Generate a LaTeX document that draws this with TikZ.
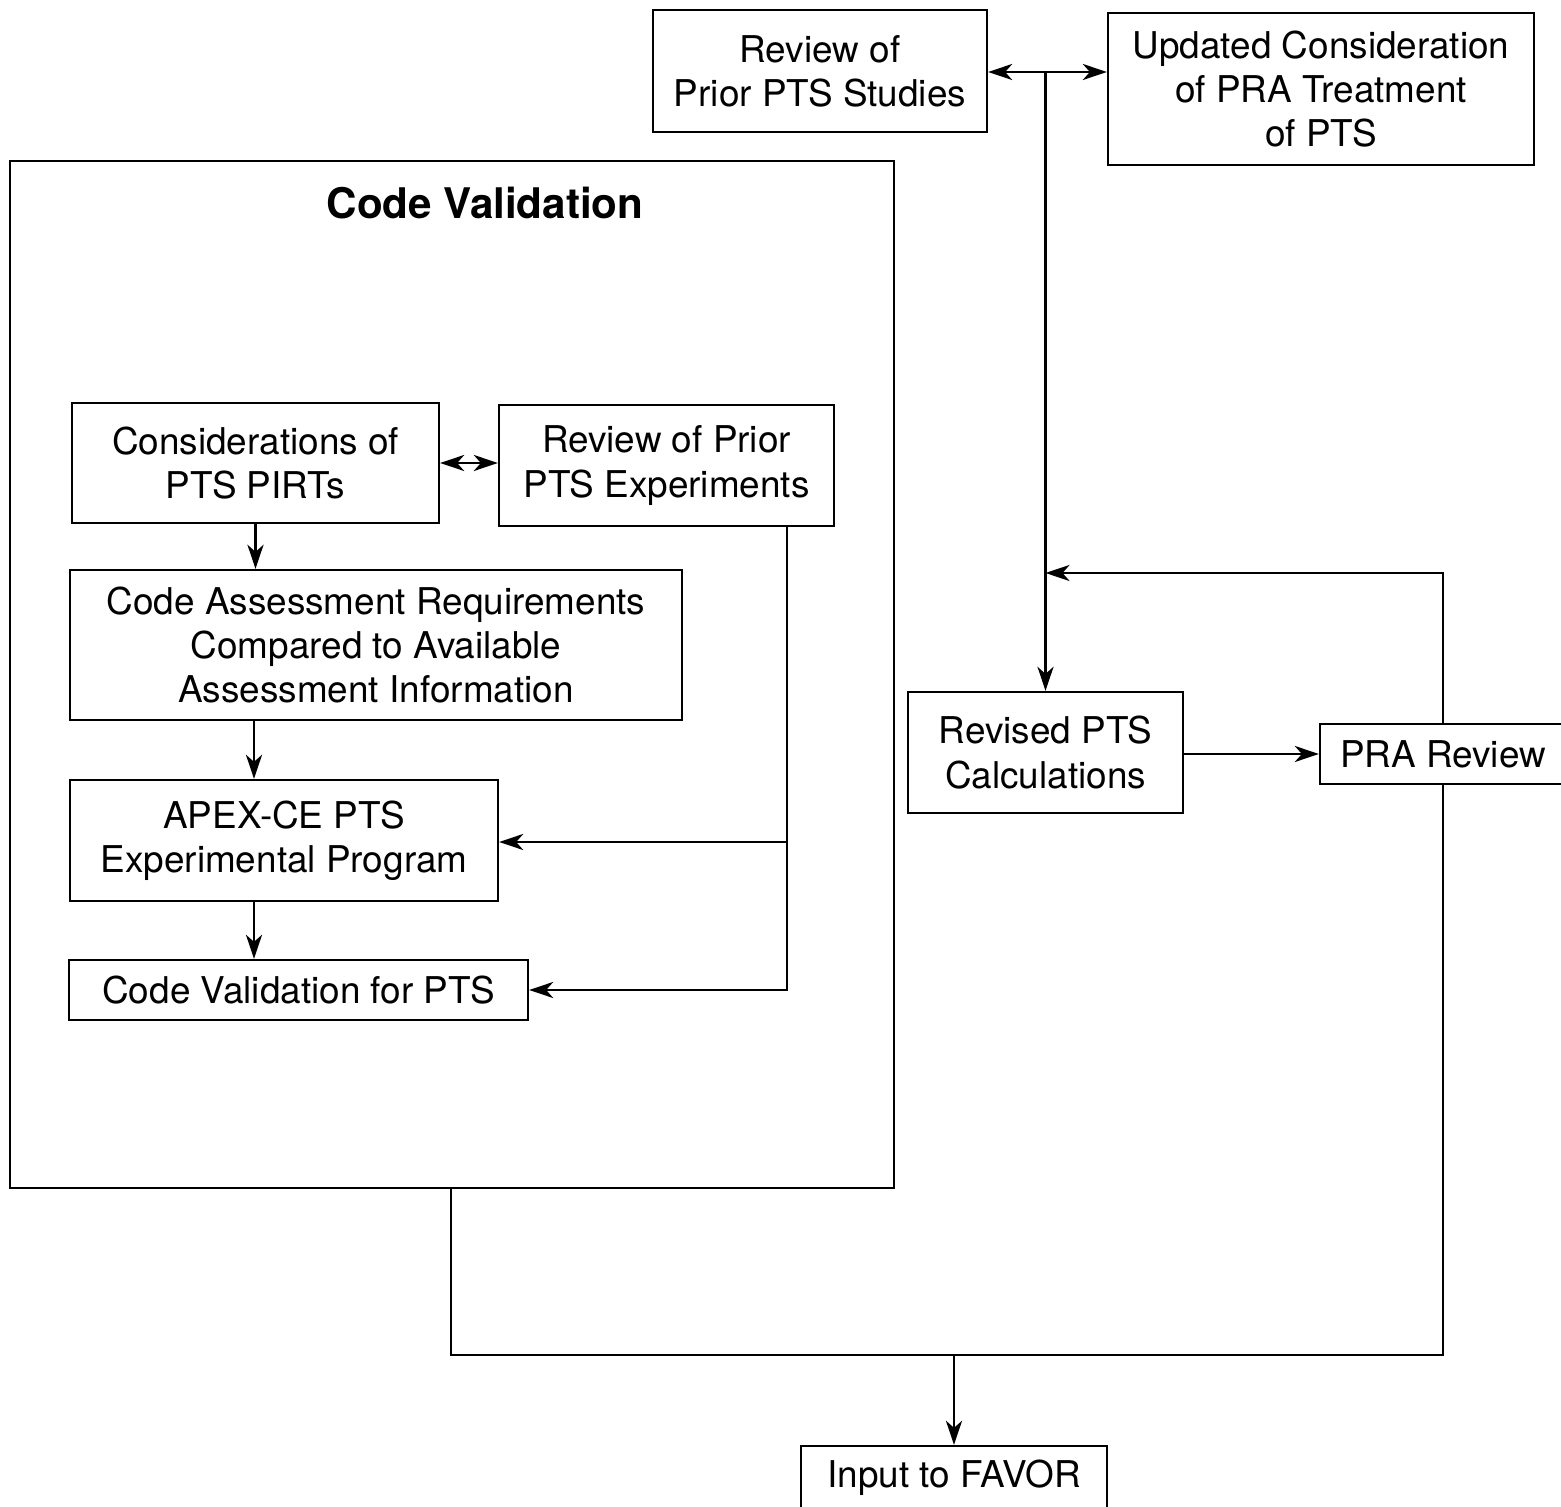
\documentclass[tikz,border=0pt]{standalone}
\usepackage{fontspec}
\setmainfont{TeX Gyre Heros}
\usetikzlibrary{arrows.meta,positioning}

\begin{document}
\begin{tikzpicture}[
  box/.style={rectangle,draw,line width=0.65pt,align=center,inner sep=0pt,
              font=\fontsize{10.5}{12.6}\selectfont},
  frame/.style={rectangle,draw,line width=0.65pt,inner sep=0pt},
  arr/.style={-{Stealth[length=2.4mm,width=1.6mm,inset=0.7mm]},line width=0.8pt},
  dbl/.style={{Stealth[length=2.4mm,width=1.6mm,inset=0.7mm]}-{Stealth[length=2.4mm,width=1.6mm,inset=0.7mm]},line width=0.8pt},
  ln/.style={line width=0.8pt}
]
\useasboundingbox (0,0) rectangle (15.61,15.06);

\node[box,minimum width=3.34cm,minimum height=1.22cm] (studies) at (8.20,14.35)
  {Review of\\Prior PTS Studies};
\node[box,minimum width=4.26cm,minimum height=1.52cm] (updated) at (13.21,14.17)
  {Updated Consideration\\of PRA Treatment\\of PTS};

\node[frame,minimum width=8.84cm,minimum height=10.27cm] (cvbox) at (4.52,8.315) {};
\node[font=\fontsize{12}{14}\bfseries] (title) at (4.85,13.03) {Code Validation};

\node[box,minimum width=3.67cm,minimum height=1.20cm] (pirts) at (2.555,10.43)
  {Considerations of\\PTS PIRTs};
\node[box,minimum width=3.35cm,minimum height=1.21cm] (priorexp) at (6.665,10.405)
  {Review of Prior\\PTS Experiments};
\node[box,minimum width=6.12cm,minimum height=1.50cm] (assess) at (3.76,8.61)
  {Code Assessment Requirements\\Compared to Available\\Assessment Information};
\node[box,minimum width=4.28cm,minimum height=1.21cm] (apex) at (2.84,6.655)
  {APEX-CE PTS\\Experimental Program};
\node[box,minimum width=4.59cm,minimum height=0.60cm] (cvpts) at (2.985,5.16)
  {Code Validation for PTS};

\node[box,minimum width=2.75cm,minimum height=1.21cm] (revised) at (10.455,7.535)
  {Revised PTS\\Calculations};
\node[box,minimum width=2.46cm,minimum height=0.60cm] (prarev) at (14.43,7.52)
  {PRA Review};
\node[box,minimum width=3.06cm,minimum height=0.64cm] (favor) at (9.54,0.28)
  {Input to FAVOR};

\coordinate (split) at (10.455,14.34);
\coordinate (back) at (10.455,9.33);
\coordinate (tap) at (7.87,6.64);
\coordinate (low) at (4.51,1.51);
\coordinate (merge) at (9.54,1.51);

\draw[dbl] (studies.east |- split) -- (updated.west |- split);
\draw[arr] (split) -- (revised.north);
\draw[arr] (prarev.north) |- (back);
\draw[arr] (revised.east |- prarev.west) -- (prarev.west);

\draw[dbl] (pirts.east) -- (pirts.east -| priorexp.west);
\draw[arr] (pirts.south) -- (pirts.south |- assess.north);
\draw[arr] (assess.south -| 2.54,0) -- (apex.north -| 2.54,0);
\draw[arr] (apex.south -| 2.54,0) -- (cvpts.north -| 2.54,0);
\draw[ln] (priorexp.south -| tap) -- (tap);
\draw[arr] (tap) -- (tap -| apex.east);
\draw[arr] (tap) |- (cvpts.east);

\draw[ln] (cvbox.south -| low) -- (low) -| (prarev.south);
\draw[arr] (merge) -- (favor.north);
\end{tikzpicture}
\end{document}
